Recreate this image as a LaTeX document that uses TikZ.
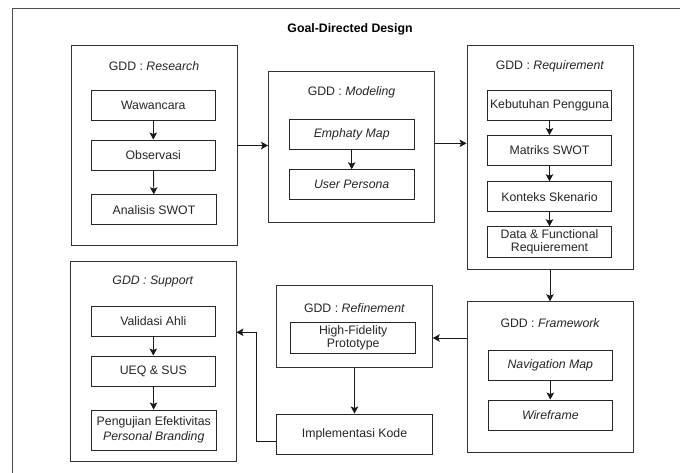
\documentclass[tikz,border=0pt]{standalone}
\usepackage{fontspec}
\setmainfont{Liberation Sans}
\usetikzlibrary{arrows.meta,positioning}
\tikzset{
  grp/.style={draw=black!80, line width=0.9pt, inner sep=0pt},
  item/.style={draw=black!85, line width=0.9pt, minimum width=124.7pt, minimum height=30pt, inner sep=1pt, align=center, font=\fontsize{12.3}{13.5}\selectfont, text=black!85},
  hdr/.style={font=\fontsize{12.3}{14}\selectfont, text=black!85, inner sep=0pt},
  conn/.style={draw=black!90, line width=0.9pt, -{Stealth[length=7pt,width=7.5pt,inset=1.5pt]}},
}
\begin{document}
\begin{tikzpicture}[x=1pt,y=-1pt]
\useasboundingbox (0,0) rectangle (680,472);
\fill[white] (0,0) rectangle (680,472);
% outer frame (cropped on right and bottom)
\draw[draw=black!70, line width=0.9pt] (12,500) -- (12,8) -- (700,8);
\node[font=\bfseries\fontsize{12.3}{14}\selectfont, inner sep=0pt] (title) at (350,29) {Goal-Directed Design};

% Research
\node[grp, minimum width=166pt, minimum height=200pt] (research) at (154,145) {};
\node[hdr] (hres) at (154,66) {GDD : \textit{Research}};
\node[item] (waw) at (153.3,105) {Wawancara};
\node[item] (obs) at (153.3,155) {Observasi};
\node[item] (swot) at (154,209.7) {Analisis SWOT};
\draw[conn] (waw) -- (obs);
\draw[conn] (obs) -- (swot);

% Modeling
\node[grp, minimum width=166pt, minimum height=150.6pt] (modeling) at (351.5,147) {};
\node[hdr] (hmod) at (351.5,92.3) {GDD : \textit{Modeling}};
\node[item] (emp) at (351.7,134) {\textit{Emphaty Map}};
\node[item] (per) at (351.7,184.7) {\textit{User Persona}};
\draw[conn] (emp) -- (per);

% Requirement
\node[grp, minimum width=166pt, minimum height=224pt] (requirement) at (550,157.3) {};
\node[hdr] (hreq) at (550,66) {GDD : \textit{Requirement}};
\node[item] (keb) at (549.5,105) {Kebutuhan Pengguna};
\node[item] (mat) at (549.5,150.5) {Matriks SWOT};
\node[item] (kon) at (549.5,196.7) {Konteks Skenario};
\node[item, minimum height=30.6pt, font=\fontsize{12.3}{13}\selectfont] (dat) at (549.5,242) {Data \& Functional\\Requierement};
\draw[conn] (keb) -- (mat);
\draw[conn] (mat) -- (kon);
\draw[conn] (kon) -- (dat);

% Framework
\node[grp, minimum width=166pt, minimum height=150.6pt] (framework) at (550.3,377) {};
\node[hdr] (hfra) at (550.3,322.7) {GDD : \textit{Framework}};
\node[item] (nav) at (550.3,365) {\textit{Navigation Map}};
\node[item] (wir) at (550.3,415) {\textit{Wireframe}};
\draw[conn] (nav) -- (wir);

% Refinement
\node[grp, minimum width=155.6pt, minimum height=81.6pt] (refinement) at (354.5,326.5) {};
\node[hdr] (href) at (354.5,307.7) {GDD : \textit{Refinement}};
\node[item, minimum width=125pt, minimum height=30.6pt, font=\fontsize{12.3}{13}\selectfont] (hf) at (353.2,338) {High-Fidelity\\Prototype};

% Implementasi
\node[item, minimum width=155.6pt, minimum height=40pt] (impl) at (354.5,434) {Implementasi Kode};

% Support
\node[grp, minimum width=166pt, minimum height=200pt] (support) at (153,361) {};
\node[hdr] (hsup) at (153,281.7) {\textit{GDD : Support}};
\node[item] (val) at (153.3,321) {Validasi Ahli};
\node[item] (ueq) at (153.3,371) {UEQ \& SUS};
\node[item, minimum height=40pt, font=\fontsize{12.3}{14.5}\selectfont] (uji) at (153.8,430) {Pengujian Efektivitas\\\textit{Personal Branding}};
\draw[conn] (val) -- (ueq);
\draw[conn] (ueq) -- (uji);

% stage connectors
\draw[conn] ([yshift=-0.5pt]research.east) -- ([yshift=-0.5pt]research.east -| modeling.west);
\draw[conn] ([yshift=3.7pt]modeling.east) -- ([yshift=3.7pt]modeling.east -| requirement.west);
\draw[conn] (requirement.south) -- (requirement.south |- framework.north);
\draw[conn] (framework.west |- hf.center) -- (refinement.east |- hf.center);
\draw[conn] (refinement.south) -- (refinement.south |- impl.north);
\coordinate (bend) at (256,441.7);
\draw[conn] ([yshift=-7.7pt]impl.west) -- (bend) |- ([yshift=28.7pt]support.east);
\end{tikzpicture}
\end{document}
